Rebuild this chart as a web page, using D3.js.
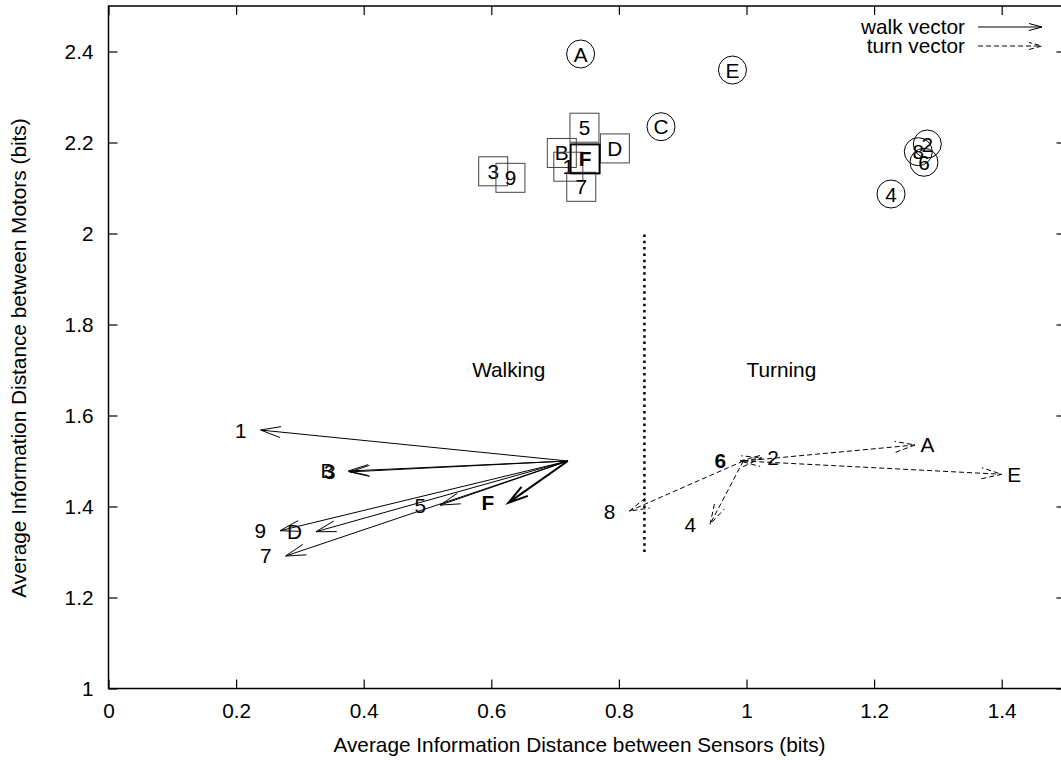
<!DOCTYPE html>
<html>
<head>
<meta charset="utf-8">
<script src="https://cdn.jsdelivr.net/npm/d3@7"></script>
<style>
  body { margin: 0; background: #fff; }
  text { font-family: "Liberation Sans", Arial, Helvetica, sans-serif; }
</style>
</head>
<body>
<svg id="chart" width="1061" height="760"></svg>
<script>
// Cluster positions of the walking gaits (boxed) and turning gaits (circled)
const squareLabels = ["3", "9", "B", "1", "7", "5", "D", "F"];
const squareX = [0.603, 0.630, 0.7105, 0.7207, 0.741, 0.746, 0.7937, 0.747];
const squareY = [2.1367, 2.1224, 2.177, 2.1468, 2.1026, 2.2325, 2.187, 2.164];

const circleLabels = ["A", "C", "E", "2", "8", "6", "4"];
const circleX = [0.740, 0.866, 0.978, 1.2834, 1.2693, 1.2782, 1.2265];
const circleY = [2.3945, 2.2347, 2.3593, 2.1967, 2.1798, 2.1565, 2.0868];

// Walk vectors: common origin and tip of each vector
const walkOrigin = [0.72, 1.5];
const walkLabels = ["1", "B", "3", "5", "F", "9", "D", "7"];
const walkX = [0.2385, 0.376, 0.378, 0.5196, 0.6267, 0.2688, 0.3252, 0.2777];
const walkY = [1.568, 1.478, 1.476, 1.403, 1.408, 1.3468, 1.3446, 1.2912];

// Turn vectors: common origin and tip of each vector
const turnOrigin = [0.995, 1.5];
const turnLabels = ["A", "E", "2", "6", "8", "4"];
const turnX = [1.2641, 1.400, 1.024, 0.990, 0.8163, 0.9428];
const turnY = [1.5352, 1.4708, 1.507, 1.500, 1.390, 1.3609];

// Separator between the two regimes
const dividerX = 0.84;
const dividerY = [1.3, 2.0];

const regionNames = ["Walking", "Turning"];
const regionX = [0.57, 1.0];
const regionY = [1.7, 1.7];

const xTicks = [0, 0.2, 0.4, 0.6, 0.8, 1, 1.2, 1.4];
const yTicks = [1, 1.2, 1.4, 1.6, 1.8, 2, 2.2, 2.4];
const xDomain = [0, 1.5];
const yDomain = [1, 2.5];

const xTitle = "Average Information Distance between Sensors (bits)";
const yTitle = "Average Information Distance between Motors (bits)";
const legendNames = ["walk vector", "turn vector"];

// ---------------------------------------------------------------
const svg = d3.select("#chart");
const plot = { left: 108.5, right: 1065.5, top: 6, bottom: 688.5 };
const x = d3.scaleLinear().domain(xDomain).range([plot.left, plot.right]);
const y = d3.scaleLinear().domain(yDomain).range([plot.bottom, plot.top]);
const FONT = 20.8;
const TICK = 9;

// Axes with inward ticks on all four sides
const fmt = d => String(d);
svg.append("g").attr("transform", `translate(0,${plot.bottom})`)
  .call(d3.axisBottom(x).tickValues(xTicks).tickFormat(fmt).tickSize(-TICK).tickSizeOuter(0).tickPadding(14.5));
svg.append("g").attr("transform", `translate(0,${plot.top})`)
  .call(d3.axisTop(x).tickValues(xTicks).tickFormat("").tickSize(-TICK).tickSizeOuter(0));
svg.append("g").attr("transform", `translate(${plot.left},0)`)
  .call(d3.axisLeft(y).tickValues(yTicks).tickFormat(fmt).tickSize(-TICK).tickSizeOuter(0).tickPadding(15));
svg.append("g").attr("transform", `translate(${plot.right},0)`)
  .call(d3.axisRight(y).tickValues(yTicks).tickFormat("").tickSize(-TICK).tickSizeOuter(0));

svg.selectAll(".domain").remove();
svg.selectAll(".tick line").attr("stroke", "#000").attr("stroke-width", 1.2);
svg.selectAll(".tick text").attr("font-size", FONT).attr("fill", "#000")
  .attr("font-family", "'Liberation Sans', Arial, sans-serif");

svg.append("rect")
  .attr("x", plot.left).attr("y", plot.top)
  .attr("width", plot.right - plot.left).attr("height", plot.bottom - plot.top)
  .attr("fill", "none").attr("stroke", "#000").attr("stroke-width", 1.5);

// Axis titles
svg.append("text")
  .attr("x", 579.5).attr("y", 752)
  .attr("text-anchor", "middle").attr("font-size", FONT).text(xTitle);
svg.append("text")
  .attr("transform", "translate(26,358) rotate(-90)")
  .attr("text-anchor", "middle").attr("font-size", FONT).text(yTitle);

// Open arrowhead path: two short strokes swept back from the tip
function arrowPath(x0, y0, x1, y1, len, half) {
  const dx = x1 - x0, dy = y1 - y0;
  const L = Math.hypot(dx, dy) || 1;
  const ux = dx / L, uy = dy / L;
  const bx = x1 - ux * len, by = y1 - uy * len;
  const px = -uy * half, py = ux * half;
  return `M${x0},${y0}L${x1},${y1}M${bx + px},${by + py}L${x1},${y1}L${bx - px},${by - py}`;
}

// Dotted separator
svg.append("line")
  .attr("x1", x(dividerX)).attr("x2", x(dividerX))
  .attr("y1", y(dividerY[0])).attr("y2", y(dividerY[1]))
  .attr("stroke", "#000").attr("stroke-width", 2.5).attr("stroke-dasharray", "2.5,3.8");

// Region names
svg.selectAll(".region").data(regionNames).join("text")
  .attr("class", "region")
  .attr("x", (d, i) => x(regionX[i])).attr("y", (d, i) => y(regionY[i]))
  .attr("dy", "0.36em").attr("font-size", FONT).text(d => d);

// Boxed cluster markers
const squares = squareLabels.map((l, i) => ({ l, x: squareX[i], y: squareY[i] }));
const sq = svg.append("g").selectAll("g").data(squares).join("g")
  .attr("transform", d => `translate(${x(d.x)},${y(d.y)})`);
sq.append("rect").attr("x", -14.5).attr("y", -14.5).attr("width", 29).attr("height", 29)
  .attr("fill", "none").attr("stroke", d => d.l === "F" ? "#000" : "#444")
  .attr("stroke-width", d => d.l === "F" ? 2 : 1);
sq.append("text").attr("text-anchor", "middle").attr("dy", "0.36em")
  .attr("font-size", FONT).attr("font-weight", d => d.l === "F" ? "bold" : "normal")
  .text(d => d.l);

// Circled cluster markers
const circles = circleLabels.map((l, i) => ({ l, x: circleX[i], y: circleY[i] }));
const ci = svg.append("g").selectAll("g").data(circles).join("g")
  .attr("transform", d => `translate(${x(d.x)},${y(d.y)})`);
ci.append("circle").attr("r", 14).attr("fill", "none").attr("stroke", "#000").attr("stroke-width", 1);
ci.append("text").attr("text-anchor", "middle").attr("dy", "0.36em")
  .attr("font-size", FONT).text(d => d.l);

// Walk vectors
const walks = walkLabels.map((l, i) => ({ l, x: walkX[i], y: walkY[i] }));
const wg = svg.append("g");
wg.selectAll("path").data(walks).join("path")
  .attr("d", d => arrowPath(x(walkOrigin[0]), y(walkOrigin[1]), x(d.x), y(d.y), 20, 5.5))
  .attr("fill", "none").attr("stroke", "#000")
  .attr("stroke-width", d => d.l === "F" ? 2 : 1);
wg.selectAll("text").data(walks).join("text")
  .attr("x", d => x(d.x) - 14).attr("y", d => y(d.y))
  .attr("dy", "0.36em").attr("text-anchor", "end").attr("font-size", FONT)
  .attr("font-weight", d => d.l === "F" ? "bold" : "normal")
  .text(d => d.l);

// Turn vectors
const turns = turnLabels.map((l, i) => ({ l, x: turnX[i], y: turnY[i] }));
const tg = svg.append("g");
tg.selectAll("path").data(turns).join("path")
  .attr("d", d => arrowPath(x(turnOrigin[0]), y(turnOrigin[1]), x(d.x), y(d.y), 20, 5.5))
  .attr("fill", "none").attr("stroke", "#000").attr("stroke-width", 1)
  .attr("stroke-dasharray", "5,3");
tg.selectAll("text").data(turns).join("text")
  .attr("x", d => d.x >= turnOrigin[0] ? x(d.x) + 5.5 : x(d.x) - 14)
  .attr("y", d => y(d.y))
  .attr("dy", "0.36em")
  .attr("text-anchor", d => d.x >= turnOrigin[0] ? "start" : "end")
  .attr("font-size", FONT)
  .attr("font-weight", d => d.l === "6" ? "bold" : "normal")
  .text(d => d.l);

// Key
const key = svg.append("g");
legendNames.forEach((name, i) => {
  const ky = 27 + i * 19;
  key.append("text").attr("x", 965).attr("y", ky).attr("dy", "0.36em")
    .attr("text-anchor", "end").attr("font-size", FONT).text(name);
  key.append("path").attr("d", arrowPath(978, ky, 1042, ky, 13, 3.5))
    .attr("fill", "none").attr("stroke", "#000").attr("stroke-width", 1)
    .attr("stroke-dasharray", i === 1 ? "5,3" : null);
});
</script>
</body>
</html>
